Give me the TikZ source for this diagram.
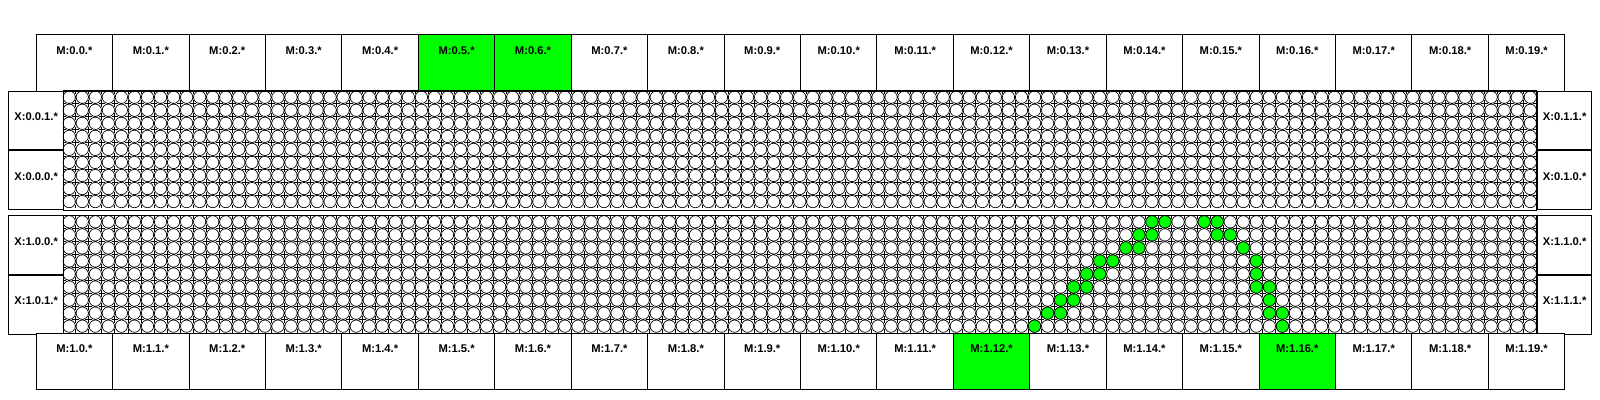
\documentclass[tikz,border=0pt]{standalone}
\usepackage{fontspec}
\setmainfont{Liberation Sans}
\usetikzlibrary{positioning}
\definecolor{ongreen}{RGB}{0,255,0}

\begin{document}
\begin{tikzpicture}[x=0.75pt,y=0.75pt,yscale=-1,xscale=1,
  cellfont/.style={font=\fontsize{8.4}{10}\selectfont\bfseries},
  mcell/.style={draw,line width=0.75,minimum width=57.32pt,minimum height=42.5pt,inner sep=0pt,anchor=north west},
  xcell/.style={draw,line width=0.75,minimum width=41pt,minimum height=44.02pt,inner sep=0pt,text height=6pt,text depth=6pt,cellfont},
  crossline/.style={line width=0.6,dash pattern=on 5pt off 4.78375pt,dash phase=2.5pt},
  dot/.style={line width=0.5},
  ]
\useasboundingbox (0,0) rectangle (1600,400);

%Top module row
\foreach \i in {0,...,19}{
  \def\cfill{white}
  \ifnum\i=5 \def\cfill{ongreen}\fi
  \ifnum\i=6 \def\cfill{ongreen}\fi
  \node[mcell,fill=\cfill] (m0-\i) at ({35.7+76.43*\i},34) {};
  \node[cellfont,inner sep=0pt,below=9pt of m0-\i.north] {M:0.\i.*};
}

%Blocks with side boxes and dot grid
\foreach \b/\t/\u/\v in {0/90.7/1/0,1/215.3/0/1}{
  \node[xcell,anchor=north west] (xl-\b-0) at (8.3,\t) {X:\b.0.\u.*};
  \node[xcell,anchor=north] (xl-\b-1) at (xl-\b-0.south) {X:\b.0.\v.*};
  \node[xcell,anchor=north west] (xr-\b-0) at (1536.8,\t) {X:\b.1.\u.*};
  \node[xcell,anchor=north] (xr-\b-1) at (xr-\b-0.south) {X:\b.1.\v.*};
  \draw[line width=0.75] (xl-\b-0.north east) rectangle (xr-\b-1.south west);
  % crosses between dots
  \foreach \k in {1,...,112} \draw[crossline] ({62.7+13.045*\k},\t) -- ++(0,117.4);
  \foreach \j in {1,...,8} \draw[crossline] (62.7,{\t+13.045*\j}) -- ++(1474.1,0);
  % dots
  \draw[dot] \foreach \c in {0,...,112}{\foreach \r in {0,...,8}{ ({69.22+13.045*\c},{\t+6.52+13.045*\r}) circle [radius=6.15] }};
}

%Lit dots
\foreach \c/\r in {74/8,75/7,76/7,76/6,77/6,77/5,78/5,78/4,79/4,79/3,80/3,81/2,82/2,82/1,83/1,83/0,84/0,
                   87/0,88/0,88/1,89/1,90/2,91/3,91/4,91/5,92/5,92/6,92/7,93/7,93/8}
  \draw[dot,fill=ongreen] ({69.22+13.045*\c},{215.3+6.52+13.045*\r}) circle [radius=6.15];

%Bottom module row
\foreach \i in {0,...,19}{
  \def\cfill{white}
  \ifnum\i=12 \def\cfill{ongreen}\fi
  \ifnum\i=16 \def\cfill{ongreen}\fi
  \node[mcell,fill=\cfill] (m1-\i) at ({35.7+76.43*\i},332.7) {};
  \node[cellfont,inner sep=0pt,below=9pt of m1-\i.north] {M:1.\i.*};
}

\end{tikzpicture}
\end{document}
